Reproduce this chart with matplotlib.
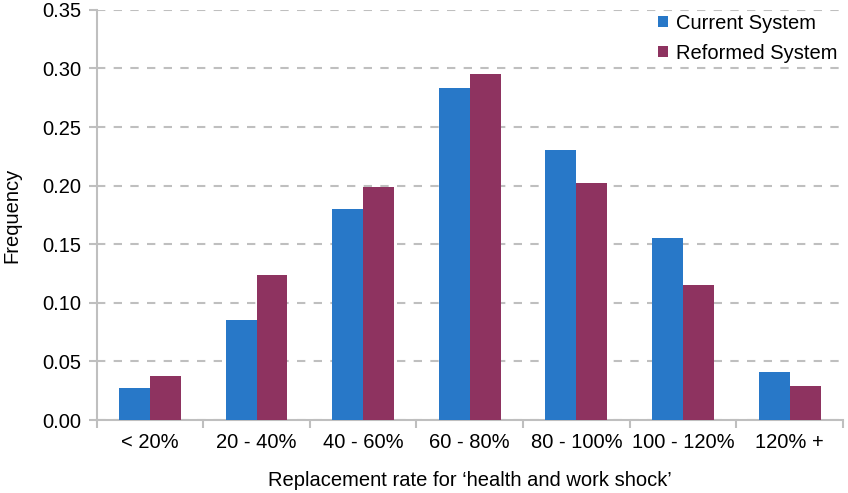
import numpy as np
import matplotlib.pyplot as plt

plt.rcParams['font.family'] = ['Liberation Sans', 'DejaVu Sans']

categories = ['< 20%', '20 - 40%', '40 - 60%', '60 - 80%', '80 - 100%', '100 - 120%', '120% +']
current = [0.027, 0.085, 0.180, 0.283, 0.230, 0.155, 0.041]
reformed = [0.038, 0.124, 0.199, 0.295, 0.202, 0.115, 0.029]

blue = '#2878C8'
maroon = '#8E3360'
grey = '#BFBFBF'
fs = 14.5

fig = plt.figure(figsize=(8.48, 4.93), dpi=100)
ax = fig.add_axes([0.114, 0.148, 0.880, 0.832])

x = np.arange(len(categories))
w = 0.29
ax.bar(x - w / 2, current, w, color=blue, label='Current System', zorder=3)
ax.bar(x + w / 2, reformed, w, color=maroon, label='Reformed System', zorder=3)

ax.set_xlim(-0.5, len(categories) - 0.5)
ax.set_ylim(0, 0.35)
ax.set_yticks(np.arange(0, 0.351, 0.05))
ax.set_yticklabels(['%.2f' % v for v in np.arange(0, 0.351, 0.05)])
ax.yaxis.grid(True, color=grey, linestyle=(0, (4, 4)), linewidth=1.5, zorder=0)

ax.set_xticks(x)
ax.set_xticklabels(categories)
ax.set_xticks(np.arange(-0.5, len(categories), 1), minor=True)
ax.tick_params(axis='x', which='major', length=0, pad=9)
ax.tick_params(axis='x', which='minor', length=6, color=grey, width=1.5)
ax.tick_params(axis='y', length=6, color=grey, width=1.5, pad=5)
ax.tick_params(labelsize=fs)

for s in ['top', 'right']:
    ax.spines[s].set_visible(False)
for s in ['left', 'bottom']:
    ax.spines[s].set_color(grey)
    ax.spines[s].set_linewidth(1.5)

ax.set_xlabel('Replacement rate for \u2018health and work shock\u2019', fontsize=fs, labelpad=14)
ax.set_ylabel('Frequency', fontsize=fs, labelpad=15)

leg = ax.legend(loc='upper right', frameon=False, fontsize=fs, handlelength=0.5,
                handleheight=0.5, handletextpad=0.4, labelspacing=0.55,
                bbox_to_anchor=(1.017, 1.035))

fig.savefig('out.png', dpi=100)
